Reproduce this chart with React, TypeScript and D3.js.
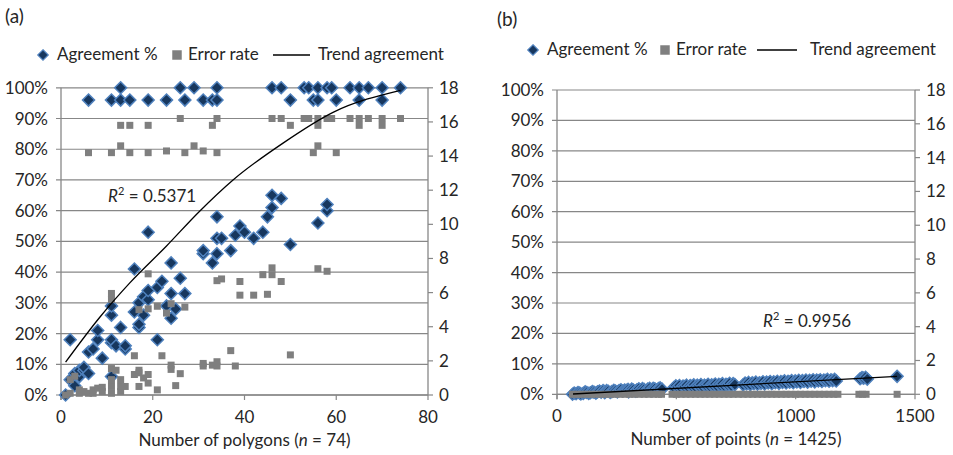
import React from 'react';
import * as d3 from 'd3';

const width = 953;
const height = 455;
const font = 'Lato, "Open Sans", sans-serif';
const textColor = '#262626';
const gridColor = '#878787';
const navy = '#17375e';
const edge = '#4f81bd';
const squareGrey = '#7f7f7f';

// tick labels
const pctTicks = [0, 10, 20, 30, 40, 50, 60, 70, 80, 90, 100];
const errTicks = [0, 2, 4, 6, 8, 10, 12, 14, 16, 18];
const polygonTicks = [0, 20, 40, 60, 80];
const pointTicks = [0, 500, 1000, 1500];

// (a) number of polygons vs agreement %
const polygonAgreement: [number, number][] = [
  [6, 96], [11, 96], [13, 100], [13, 96], [15, 96], [19, 96], [23, 96], [26, 100], [27, 96],
  [29, 100], [31, 96], [33, 96], [34, 100], [34, 96], [46, 100], [48, 100], [50, 96], [53, 100],
  [54, 100], [55, 96], [56, 100], [56, 96], [58, 100], [59, 100], [60, 96], [63, 100], [65, 100],
  [65, 96], [67, 100], [70, 100], [70, 96], [74, 100],
  [1, 0], [2, 5], [2, 18], [3, 3], [3, 7], [4, 6], [4, 8], [5, 8], [5, 9], [6, 7], [6, 14],
  [7, 15], [8, 18], [8, 21], [9, 12], [11, 6], [11, 17], [11, 18], [11, 26], [11, 29], [12, 16],
  [13, 22], [14, 15], [14, 16], [16, 27], [16, 41], [17, 22], [17, 23], [17, 30], [18, 26],
  [18, 32], [19, 31], [19, 34], [19, 53], [21, 18], [21, 35], [22, 37], [23, 29], [24, 25],
  [24, 33], [24, 43], [25, 28], [26, 38], [27, 33], [31, 46], [31, 47], [33, 43], [34, 46],
  [34, 51], [34, 58], [35, 51], [37, 47], [38, 52], [39, 55], [40, 53], [42, 51], [44, 53],
  [45, 58], [46, 61], [46, 65], [48, 64], [50, 49], [56, 56], [58, 60], [58, 62],
];

// (a) number of polygons vs error rate (right axis)
const polygonError: [number, number][] = [
  [6, 14.2], [11, 14.2], [13, 14.6], [13, 15.8], [15, 14.2], [15, 15.8], [19, 14.2], [19, 15.8],
  [23, 14.3], [26, 16.2], [27, 14.2], [29, 14.6], [31, 14.3], [33, 15.8], [34, 14.2], [34, 16.2],
  [46, 16.2], [48, 16.2], [50, 15.8], [53, 16.2], [54, 16.2], [55, 14.2], [56, 14.6], [56, 15.8],
  [56, 16.2], [58, 16.2], [59, 16.2], [60, 14.2], [63, 16.2], [65, 15.8], [65, 16.2], [67, 16.2],
  [70, 15.8], [70, 16.2], [74, 16.2],
  [1, 0], [2, 0.1], [2, 0.9], [3, 1.1], [4, 0.1], [4, 0.3], [5, 0.2], [6, 0.1], [7, 0.1],
  [7, 0.3], [8, 0.4], [9, 0.2], [9, 0.45], [11, 0.1], [11, 0.5], [11, 0.9], [11, 1.55],
  [11, 5.6], [11, 5.95], [12, 1.45], [13, 0.2], [13, 0.5], [13, 0.9], [14, 0.5], [16, 1.2],
  [16, 2.3], [17, 0.5], [17, 1.3], [17, 1.45], [17, 5.0], [18, 1.0], [19, 0.7], [19, 1.2],
  [19, 5.05], [19, 7.1], [21, 0.3], [21, 5.2], [22, 2.3], [23, 4.8], [24, 1.5], [24, 1.75],
  [24, 5.35], [25, 0.55], [26, 1.25], [27, 5.15], [31, 1.7], [31, 1.85], [33, 1.75], [34, 1.7],
  [34, 1.95], [34, 6.7], [35, 6.8], [37, 2.6], [38, 1.7], [39, 5.85], [39, 6.65], [42, 5.85],
  [44, 7.05], [45, 5.9], [46, 7.05], [46, 7.45], [48, 6.65], [50, 2.35], [56, 7.4], [58, 7.25],
];

// (a) trend agreement
const polygonTrend: [number, number][] = [
  [1, 10.7], [8.5, 25.4], [15, 36.5], [23, 48.5], [30, 59.5], [37.5, 70], [48.4, 82], [59.3, 92], [74, 99.2],
];

// (b) number of points vs agreement %
const pointAgreement: [number, number][] = [
  [65, 0], [72, 0.4], [80, 0.2], [88, 0.6], [95, 0.4], [100, 0.1], [110, 0.3], [118, 0.8],
  [125, 0.6], [133, 0.3], [140, 0.5], [148, 0.9], [155, 0.7], [163, 0.4], [170, 0.8], [178, 1.1],
  [185, 0.7], [193, 1.2], [200, 0.9], [200, 0.5], [208, 1.2], [215, 1.0], [223, 0.6], [230, 0.9],
  [238, 1.3], [245, 1.1], [253, 0.8], [260, 1.2], [268, 1.5], [275, 1.1], [283, 1.4], [290, 1.3],
  [298, 1.6], [300, 0.8], [305, 1.2], [313, 1.7], [320, 1.4], [328, 1.0], [335, 1.5], [343, 1.8],
  [350, 1.4], [358, 1.9], [365, 1.6], [373, 1.2], [380, 1.7], [388, 2.0], [395, 1.5], [400, 1.2],
  [403, 2.0], [410, 1.8], [418, 1.4], [425, 1.9], [432, 2.1], [440, 1.7],
  [490, 2.2], [498, 2.8], [505, 2.4], [513, 2.9], [520, 2.1], [528, 2.7], [535, 2.5], [543, 3.0],
  [550, 2.3], [558, 2.9], [565, 2.6], [573, 3.1], [580, 2.4], [588, 3.0], [595, 2.7], [603, 3.2],
  [610, 2.5], [618, 3.0], [625, 2.8], [633, 3.3], [640, 2.6], [648, 3.1], [655, 2.9], [663, 3.4],
  [670, 2.7], [678, 3.3], [685, 3.0], [693, 3.5], [700, 2.8], [708, 3.3], [715, 3.1], [723, 3.6],
  [730, 2.9], [738, 3.5], [745, 3.2],
  [780, 3.1], [788, 3.7], [795, 3.4], [803, 3.9], [810, 3.2], [818, 3.8], [825, 3.5], [833, 4.0],
  [840, 3.3], [848, 3.8], [855, 3.6], [863, 4.1], [870, 3.4], [878, 4.0], [885, 3.7], [893, 4.2],
  [900, 3.5], [908, 4.1], [915, 3.8], [923, 4.3], [930, 3.6], [938, 4.2], [945, 3.9], [953, 4.4],
  [960, 3.7], [968, 4.3], [975, 4.0], [983, 4.5], [990, 3.8], [998, 4.4], [1005, 4.1], [1013, 4.6],
  [1020, 3.9], [1028, 4.5], [1035, 4.2], [1043, 4.7], [1050, 4.0], [1058, 4.6], [1065, 4.3],
  [1073, 4.8], [1080, 4.1], [1088, 4.7], [1095, 4.4], [1103, 4.8], [1110, 4.2], [1118, 4.7],
  [1125, 4.5], [1133, 4.9], [1140, 4.3], [1148, 4.8], [1155, 4.5], [1163, 4.9], [1170, 4.4],
  [1270, 5.1], [1278, 5.5], [1285, 5.3], [1293, 5.6], [1300, 5.0], [1425, 5.9],
];

// (b) number of points vs error rate (right axis)
const pointError: [number, number][] = [
  [65, 0], [85, 0], [105, 0], [125, 0], [145, 0], [165, 0], [185, 0], [205, 0], [225, 0], [245, 0],
  [265, 0], [285, 0], [305, 0], [325, 0], [345, 0], [365, 0], [385, 0], [405, 0], [425, 0], [438, 0],
  [482, 0], [500, 0], [520, 0], [540, 0], [560, 0], [580, 0], [600, 0], [620, 0], [640, 0], [660, 0],
  [680, 0], [700, 0], [720, 0], [738, 0],
  [760, 0], [780, 0], [800, 0], [820, 0], [840, 0], [860, 0], [880, 0], [900, 0], [920, 0], [940, 0],
  [960, 0], [980, 0], [1000, 0], [1020, 0], [1040, 0], [1060, 0], [1080, 0], [1100, 0], [1120, 0],
  [1140, 0], [1160, 0], [1177, 0],
  [1265, 0], [1280, 0], [1295, 0], [1425, 0],
];

// (b) trend agreement
const pointTrend: [number, number][] = [
  [67, 0.1], [1425, 5.9],
];

type PanelProps = {
  tag: string;
  tagX: number;
  tagY: number;
  left: number;
  right: number;
  top: number;
  bottom: number;
  xMax: number;
  xTicks: number[];
  agreement: [number, number][];
  error: [number, number][];
  trend: [number, number][];
  curved: boolean;
  legendY: number;
  legendX: number[];
  r2: string;
  r2X: number;
  r2Y: number;
  titleMain: string;
  titleN: string;
};

const diamondPath = d3.symbol(d3.symbolDiamond2 || d3.symbolDiamond, 92)() as string;
const legendDiamondPath = d3.symbol(d3.symbolDiamond2 || d3.symbolDiamond, 70)() as string;
const squarePath = d3.symbol(d3.symbolSquare, 49)() as string;
const legendSquarePath = d3.symbol(d3.symbolSquare, 90)() as string;

function Panel(p: PanelProps) {
  const x = d3.scaleLinear().domain([0, p.xMax]).range([p.left, p.right]);
  const yPct = d3.scaleLinear().domain([0, 100]).range([p.bottom, p.top]);
  const yErr = d3.scaleLinear().domain([0, 18]).range([p.bottom, p.top]);
  const line = d3.line<[number, number]>()
    .x((d) => x(d[0]))
    .y((d) => yPct(d[1]))
    .curve(p.curved ? d3.curveMonotoneX : d3.curveLinear);
  const [lx0, lx1, lx2, lx3, lx4] = p.legendX;

  return (
    <g fontFamily={font} fill={textColor} fontSize={17}>
      <text x={p.tagX} y={p.tagY} fontSize={19}>{p.tag}</text>

      {/* legend */}
      <path d={legendDiamondPath} transform={`translate(${lx0},${p.legendY - 5})`} fill={navy} stroke={edge} strokeWidth={1.2} />
      <text x={lx0 + 14} y={p.legendY}>Agreement %</text>
      <path d={legendSquarePath} transform={`translate(${lx1},${p.legendY - 5})`} fill={squareGrey} />
      <text x={lx1 + 11} y={p.legendY}>Error rate</text>
      <line x1={lx2} x2={lx3} y1={p.legendY - 5} y2={p.legendY - 5} stroke="#000" strokeWidth={1.3} />
      <text x={lx4} y={p.legendY}>Trend agreement</text>

      {/* grid + left ticks */}
      {pctTicks.map((t) => (
        <g key={`g${t}`}>
          <line x1={p.left - 5} x2={p.right} y1={yPct(t)} y2={yPct(t)} stroke={gridColor} strokeWidth={1.2} />
          <text x={p.left - 13} y={yPct(t) + 6} textAnchor="end">{`${t}%`}</text>
        </g>
      ))}
      {/* right axis */}
      <line x1={p.right} x2={p.right} y1={p.top} y2={p.bottom} stroke={gridColor} strokeWidth={1.3} />
      {errTicks.map((t) => (
        <g key={`e${t}`}>
          <line x1={p.right} x2={p.right + 5} y1={yErr(t)} y2={yErr(t)} stroke={gridColor} strokeWidth={1.2} />
          <text x={p.right + 11} y={yErr(t) + 6}>{t}</text>
        </g>
      ))}
      {/* left axis */}
      <line x1={p.left} x2={p.left} y1={p.top} y2={p.bottom + 5} stroke={gridColor} strokeWidth={1.3} />
      {/* x axis */}
      <line x1={p.left} x2={p.right} y1={p.bottom} y2={p.bottom} stroke={gridColor} strokeWidth={1.3} />
      {p.xTicks.map((t) => (
        <g key={`x${t}`}>
          <line x1={x(t)} x2={x(t)} y1={p.bottom} y2={p.bottom + 5} stroke={gridColor} strokeWidth={1.2} />
          <text x={x(t)} y={p.bottom + 28} textAnchor="middle">{t}</text>
        </g>
      ))}
      <text x={(p.left + p.right) / 2} y={p.bottom + 51} textAnchor="middle">
        {p.titleMain} (<tspan fontStyle="italic">n</tspan> = {p.titleN})
      </text>

      {/* marks */}
      {p.agreement.map((d, i) => (
        <path key={`a${i}`} d={diamondPath} transform={`translate(${x(d[0])},${yPct(d[1])})`}
          fill={navy} stroke={edge} strokeWidth={1.5} />
      ))}
      {p.error.map((d, i) => (
        <path key={`s${i}`} d={squarePath} transform={`translate(${x(d[0])},${yErr(d[1])})`} fill={squareGrey} />
      ))}
      <path d={line(p.trend) || ''} fill="none" stroke="#000" strokeWidth={1.3} />

      <text x={p.r2X} y={p.r2Y}>
        <tspan fontStyle="italic">R</tspan>
        <tspan dy={-7} fontSize={11}>2</tspan>
        <tspan dy={7}>{` = ${p.r2}`}</tspan>
      </text>
    </g>
  );
}

export default function App() {
  return (
    <svg width={width} height={height} style={{ position: 'absolute', left: 0, top: 0, background: '#fff' }}>
      <Panel
        tag="(a)" tagX={5} tagY={23}
        left={61} right={428} top={87.8} bottom={395}
        xMax={80} xTicks={polygonTicks}
        agreement={polygonAgreement} error={polygonError} trend={polygonTrend} curved
        legendY={60} legendX={[43, 177, 273, 310, 318]}
        r2="0.5371" r2X={108} r2Y={202}
        titleMain="Number of polygons" titleN="74"
      />
      <Panel
        tag="(b)" tagX={497} tagY={26}
        left={557} right={915} top={90} bottom={394.3}
        xMax={1500} xTicks={pointTicks}
        agreement={pointAgreement} error={pointError} trend={pointTrend} curved={false}
        legendY={55} legendX={[533, 665, 757, 797, 810]}
        r2="0.9956" r2X={763} r2Y={327}
        titleMain="Number of points" titleN="1425"
      />
    </svg>
  );
}
